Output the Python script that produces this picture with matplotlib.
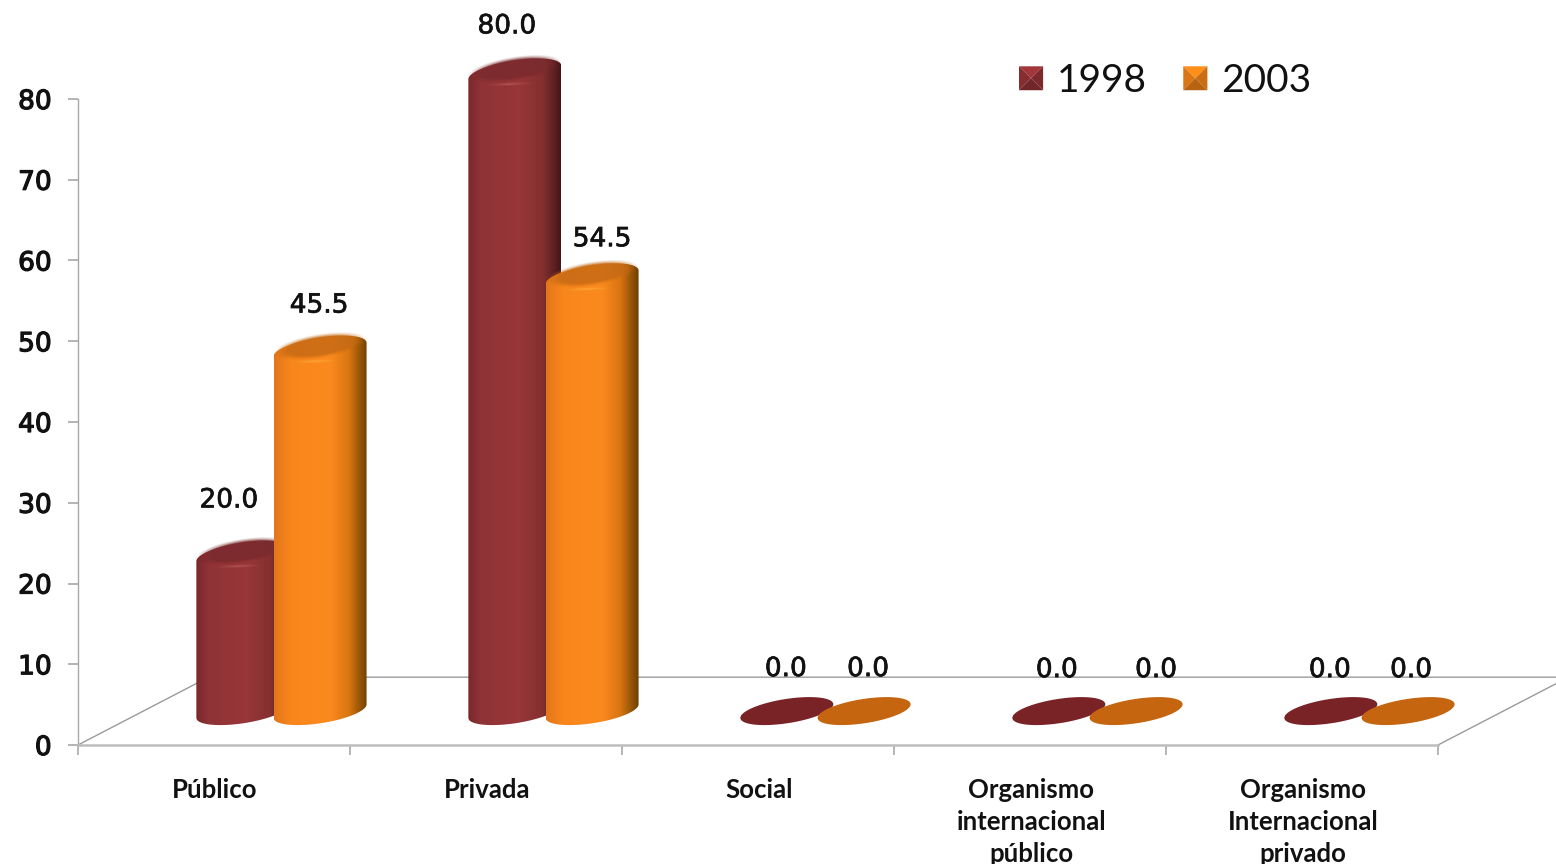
import matplotlib; matplotlib.use('Agg')
import numpy as np
from matplotlib import patheffects as pe
from matplotlib import pyplot as plt
from matplotlib.colors import LinearSegmentedColormap, to_rgb
from matplotlib.legend_handler import HandlerBase
from matplotlib.patches import Patch, Polygon

categories = ['Público', 'Privada', 'Social',
              'Organismo\ninternacional\npúblico',
              'Organismo\nInternacional\nprivado']
years = ['1998', '2003']
values_1998 = [20.0, 80.0, 0.0, 0.0, 0.0]
values_2003 = [45.5, 54.5, 0.0, 0.0, 0.0]
yticks = list(range(0, 90, 10))

# hand placed value labels, pixels from the bar top
nudge_1998 = [(-14, 54), (-8, 46), (-1, 42), (-2, 41), (-1, 41)]
nudge_2003 = [(-1, 44), (10, 38), (4, 42), (20, 41), (3, 41)]

W, H = 1556, 864
BAR_OFFSET = [0.606, 0.89]
FLOOR = 4.2      # the bars stand this far behind the axis
TOP_FLOOR = 3.7
DEPTH = 0.995    # height shrink caused by the 3d view
RX, RY, PHI = 46.5 / 272, 14.0 / 8.075, np.radians(29)

red_cm = LinearSegmentedColormap.from_list('red', [
    (0, '#7a282b'), (0.14, '#903336'), (0.55, '#983639'), (0.8, '#85302f'),
    (0.93, '#5e2022'), (1, '#451618')])
orange_cm = LinearSegmentedColormap.from_list('orange', [
    (0, '#e2761a'), (0.18, '#f8861c'), (0.6, '#fb8a1e'), (0.8, '#d97511'),
    (0.93, '#8f5206'), (1, '#6e3e00')])


def ellipse(cx, cy, scale=1.0, n=120):
    t = np.linspace(0, 2 * np.pi, n)
    return cx + scale * RX * np.cos(t), cy + scale * RY * np.sin(t + PHI)


def shade(rgb, k):
    return tuple(min(1, c * k) for c in to_rgb(rgb))


def cylinder(ax, cx, value, cmap, cap, glow, zorder):
    base = FLOOR
    top = TOP_FLOOR + value * DEPTH
    # lower half of the base, between left and right extremes
    t = np.linspace(-np.pi, 0, 60)
    bx = cx + RX * np.cos(t)
    by = base + RY * np.sin(t + PHI)
    # upper half of the top, right to left
    t = np.linspace(0, np.pi, 60)
    tx = cx + RX * np.cos(t)
    ty = top + RY * np.sin(t + PHI)
    outline = Polygon(np.column_stack([np.r_[bx, tx], np.r_[by, ty]]),
                      transform=ax.transData, fill=False, edgecolor='none')
    ax.add_patch(outline)
    outline.set_clip_on(False)
    grad = np.linspace(0, 1, 256).reshape(1, -1)
    im = ax.imshow(grad, cmap=cmap, aspect='auto', zorder=zorder,
                   extent=(cx - RX, cx + RX, base - 3, top + 4))
    im.set_clip_box(ax.figure.bbox)
    im.set_clip_path(outline)

    # soft rounded top: dark inner cap and a highlight on the front rim
    for k, a in zip(np.linspace(0.98, 0.72, 7), [.08, .1, .14, .18, .25, .3, .4]):
        x, y = ellipse(cx, top + 0.45, k)
        ax.fill(x, y, color=shade(cap, 0.8), alpha=a, lw=0,
                zorder=zorder + 0.1, clip_on=False)
    t = np.linspace(0, 2 * np.pi, 60)
    for k, a in zip(np.linspace(0.5, 0.1, 6), [.06, .08, .1, .12, .16, .2]):
        x = cx - 0.1 * RX + k * RX * np.cos(t)
        y = top - 1.45 + k * RY * 0.3 * np.sin(t + PHI)
        ax.fill(x, y, color=glow, alpha=a, lw=0,
                zorder=zorder + 0.2, clip_on=False)


class PyramidHandler(HandlerBase):
    # bevelled legend key like the office 3d swatches
    def create_artists(self, legend, orig, xdescent, ydescent, width, height,
                       fontsize, trans):
        c = orig.get_facecolor()
        x0, y0 = -xdescent, -ydescent
        x1, y1 = x0 + width, y0 + height
        mx, my = (x0 + x1) / 2, (y0 + y1) / 2
        faces = [([(x0, y1), (x1, y1), (mx, my)], 1.15),
                 ([(x0, y0), (x0, y1), (mx, my)], 0.95),
                 ([(x1, y0), (x1, y1), (mx, my)], 0.88),
                 ([(x0, y0), (x1, y0), (mx, my)], 0.8)]
        return [Polygon(p, facecolor=shade(c, k), edgecolor='none',
                        transform=trans) for p, k in faces]


fig = plt.figure(figsize=(W / 100, H / 100), dpi=100)
ax = fig.add_axes([78 / W, (H - 745) / H, 1360 / W, 646 / H])

# floor of the 3d box
back = 8.4
depth_x = 0.48
ax.plot([0, depth_x, 5 + depth_x, 5], [0, back, back, 0], color='#9a9a9a',
        lw=1.0, clip_on=False, zorder=1)

heavy = [pe.withStroke(linewidth=0.5, foreground='#111111')]
series = [(values_1998, red_cm, '#983639', '#c96d68', '#7a2326', nudge_1998),
          (values_2003, orange_cm, '#f8861c', '#ffc04a', '#c5650f', nudge_2003)]
for s, (vals, cmap, cap, glow, flat, nudge) in enumerate(series):
    for i, v in enumerate(vals):
        cx = i + BAR_OFFSET[s]
        top = TOP_FLOOR + v * DEPTH if v > 0 else FLOOR
        if v > 0:
            cylinder(ax, cx, v, cmap, cap, glow, 3 + 0.5 * i + s * 0.2)
        else:
            x, y = ellipse(cx, FLOOR)
            ax.fill(x, y, color=flat, lw=0, zorder=3 + s * 0.2, clip_on=False)
        ax.annotate('%.1f' % v, (cx, top), xytext=(nudge[i][0] * 0.72, nudge[i][1] * 0.72),
                    textcoords='offset points', ha='center', va='center',
                    fontsize=19, color='#111111', family='DejaVu Sans',
                    path_effects=heavy, zorder=10, annotation_clip=False)

ax.set_xlim(0, 5)
ax.set_ylim(0, 80)
ax.set_yticks(yticks)
ax.set_xticks(range(6))
ax.set_xticklabels([])
ax.set_xticks(np.arange(5) + 0.504, categories, minor=True)
ax.tick_params(axis='x', which='minor', length=0, pad=23.5, labelsize=18.5)
ax.tick_params(axis='x', which='major', length=7, width=1.2, color='#a8a8a8')
ax.tick_params(axis='y', length=7, width=1.2, color='#a8a8a8', pad=12)
for lab in ax.get_xminorticklabels():
    lab.set_fontfamily('Lato')
    lab.set_fontweight('bold')
    lab.set_linespacing(1.42)
    lab.set_color('#111111')
for lab in ax.get_yticklabels():
    lab.set_fontfamily('DejaVu Sans')
    lab.set_fontsize(19)
    lab.set_color('#111111')
    lab.set_path_effects([pe.withStroke(linewidth=0.9, foreground='#111111')])
for side in ('top', 'right'):
    ax.spines[side].set_visible(False)
ax.spines['left'].set_color('#a8a8a8')
ax.spines['left'].set_linewidth(1.0)
ax.spines['bottom'].set_color('#bdbdbd')
ax.spines['bottom'].set_linewidth(1.8)
ax.patch.set_alpha(0)

handles = [Patch(facecolor='#8d2f33'), Patch(facecolor='#e57c16')]
ax.legend(handles, years, handler_map={Patch: PyramidHandler()},
          loc='center left', bbox_to_anchor=(1019 / W, 1 - 81 / H),
          bbox_transform=fig.transFigure, ncol=2, frameon=False,
          prop={'family': 'Lato', 'size': 28}, labelcolor='#111111',
          handlelength=0.62, handleheight=0.57, handletextpad=0.36,
          columnspacing=0.93, borderpad=0, borderaxespad=0)

fig.savefig('out.png', dpi=100)
